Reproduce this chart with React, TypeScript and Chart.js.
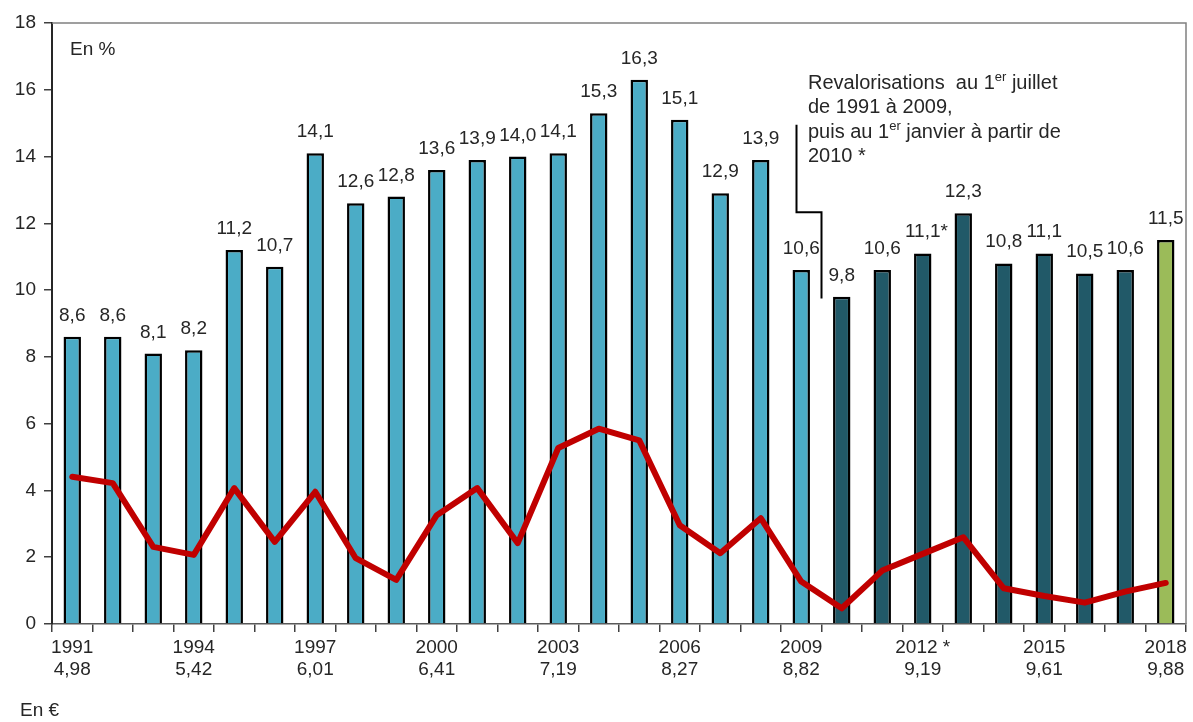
import React, { useEffect, useRef } from "react";
import { Chart, registerables } from "chart.js";

Chart.register(...registerables);

const years: string[] = [
  "1991","1992","1993","1994","1995","1996","1997","1998","1999","2000",
  "2001","2002","2003","2004","2005","2006","2007","2008","2009","2010",
  "2011","2012","2013","2014","2015","2016","2017","2018",
];
const barValues: number[] = [
  8.6, 8.6, 8.1, 8.2, 11.2, 10.7, 14.1, 12.6, 12.8, 13.6,
  13.9, 14.0, 14.1, 15.3, 16.3, 15.1, 12.9, 13.9, 10.6, 9.8,
  10.6, 11.1, 12.3, 10.8, 11.1, 10.5, 10.6, 11.5,
];
const barLabelSuffix: string[] = [
  "","","","","","","","","","",
  "","","","","","","","","","",
  "","*","","","","","","",
];
const lineValues: number[] = [
  4.41, 4.22, 2.31, 2.07, 4.07, 2.46, 3.96, 1.97, 1.32, 3.26,
  4.07, 2.42, 5.27, 5.85, 5.5, 2.96, 2.12, 3.17, 1.27, 0.47,
  1.6, 2.1, 2.6, 1.07, 0.84, 0.64, 0.97, 1.23,
];
const smicLabels: string[] = [
  "4,98","","","5,42","","","6,01","","","6,41",
  "","","7,19","","","8,27","","","8,82","",
  "","9,19","","","9,61","","","9,88",
];
const yearTickLabels: string[] = [
  "1991","","","1994","","","1997","","","2000",
  "","","2003","","","2006","","","2009","",
  "","2012 *","","","2015","","","2018",
];
const barColors: string[] = years.map((y) => {
  const n = parseInt(y, 10);
  if (n <= 2009) return "#4BACC6";
  if (n <= 2017) return "#215968";
  return "#9BBB59";
});
const yTicks: number[] = [0, 2, 4, 6, 8, 10, 12, 14, 16, 18];

const FONT = "'Liberation Sans', Arial, sans-serif";
const TEXT = "#262626";
const FS = 19;

const overlayPlugin = {
  id: "overlay",
  afterDatasetsDraw(chart: any) {
    const ctx = chart.ctx as CanvasRenderingContext2D;
    const area = chart.chartArea;
    const xs = chart.scales.x;
    const ys = chart.scales.y;
    ctx.save();
    // top and right border
    ctx.strokeStyle = "#808080";
    ctx.lineWidth = 1.5;
    ctx.beginPath();
    ctx.moveTo(area.left, area.top);
    ctx.lineTo(area.right, area.top);
    ctx.lineTo(area.right, area.bottom);
    ctx.stroke();

    // data labels
    const meta = chart.getDatasetMeta(0);
    ctx.font = `${FS}px ${FONT}`;
    ctx.fillStyle = TEXT;
    ctx.textBaseline = "alphabetic";
    meta.data.forEach((el: any, i: number) => {
      const txt = barValues[i].toFixed(1).replace(".", ",");
      const w = ctx.measureText(txt).width;
      ctx.textAlign = "left";
      ctx.fillText(txt + barLabelSuffix[i], el.x - w / 2, el.y - 16);
    });

    // unit labels
    ctx.textAlign = "left";
    ctx.textBaseline = "middle";
    ctx.fillText("En %", area.left + 18, 50);
    ctx.fillText("En €", 20, 711);

    // annotation text
    const ax = 808;
    const supFont = `13px ${FONT}`;
    const mainFont = `${FS + 1}px ${FONT}`;
    const drawParts = (parts: [string, boolean][], y: number) => {
      let x = ax;
      ctx.textBaseline = "alphabetic";
      parts.forEach(([t, sup]) => {
        ctx.font = sup ? supFont : mainFont;
        ctx.fillText(t, x, sup ? y - 8 : y);
        x += ctx.measureText(t).width;
      });
    };
    drawParts([["Revalorisations  au 1", false], ["er", true], [" juillet", false]], 89);
    drawParts([["de 1991 à 2009,", false]], 113);
    drawParts([["puis au 1", false], ["er", true], [" janvier à partir de", false]], 138);
    drawParts([["2010 *", false]], 162);

    // bracket
    const boundary = (xs.getPixelForValue(18) + xs.getPixelForValue(19)) / 2;
    ctx.strokeStyle = "#000";
    ctx.lineWidth = 2;
    ctx.beginPath();
    ctx.moveTo(boundary - 25, ys.getPixelForValue(14.95));
    ctx.lineTo(boundary - 25, ys.getPixelForValue(12.33));
    ctx.lineTo(boundary, ys.getPixelForValue(12.33));
    ctx.lineTo(boundary, ys.getPixelForValue(9.75));
    ctx.stroke();
    ctx.restore();
  },
};

export default function App() {
  const ref = useRef<HTMLCanvasElement | null>(null);
  useEffect(() => {
    if (!ref.current) return;
    const chart = new Chart(ref.current, {
      type: "bar",
      data: {
        labels: years,
        datasets: [
          {
            type: "bar",
            data: barValues,
            backgroundColor: barColors,
            borderColor: "#000000",
            borderWidth: 2.5,
            barPercentage: 0.43,
            categoryPercentage: 1,
            order: 2,
          },
          {
            type: "line",
            data: lineValues,
            borderColor: "#C00000",
            borderWidth: 6,
            pointRadius: 0,
            tension: 0,
            borderJoinStyle: "round",
            borderCapStyle: "round",
            order: 1,
          } as any,
        ],
      },
      options: {
        animation: false,
        responsive: false,
        maintainAspectRatio: false,
        layout: { padding: { top: 23, right: 7, bottom: 0, left: 0 } },
        plugins: { legend: { display: false }, tooltip: { enabled: false } },
        scales: {
          x: {
            offset: true,
            grid: { offset: true, drawOnChartArea: false, drawTicks: true, tickLength: 8, color: "#404040", lineWidth: 1.5 },
            border: { color: "#595959", width: 1.5 },
            ticks: {
              autoSkip: false,
              maxRotation: 0,
              padding: 4,
              color: TEXT,
              font: { family: FONT, size: FS, lineHeight: 1.2 },
              callback: (_v: any, i: number) => {
                if (!yearTickLabels[i]) return "";
                return [yearTickLabels[i], smicLabels[i]];
              },
            },
            afterFit: (s: any) => { s.height = 98; },
          },
          y: {
            min: 0,
            max: 18,
            afterBuildTicks: (s: any) => { s.ticks = yTicks.map((v) => ({ value: v })); },
            grid: { drawOnChartArea: false, drawTicks: true, tickLength: 8, color: "#404040", lineWidth: 1.5 },
            border: { color: "#262626", width: 2 },
            ticks: {
              padding: 8,
              color: TEXT,
              font: { family: FONT, size: FS },
              callback: (v: any) => String(v),
            },
            afterFit: (s: any) => { s.width = 52; },
          },
        },
      },
      plugins: [overlayPlugin],
    });
    return () => chart.destroy();
  }, []);
  return (
    <div style={{ position: "absolute", left: 0, top: 0, width: 1193, height: 722, background: "#fff" }}>
      <canvas ref={ref} width={1193} height={722} style={{ width: 1193, height: 722 }} />
    </div>
  );
}
